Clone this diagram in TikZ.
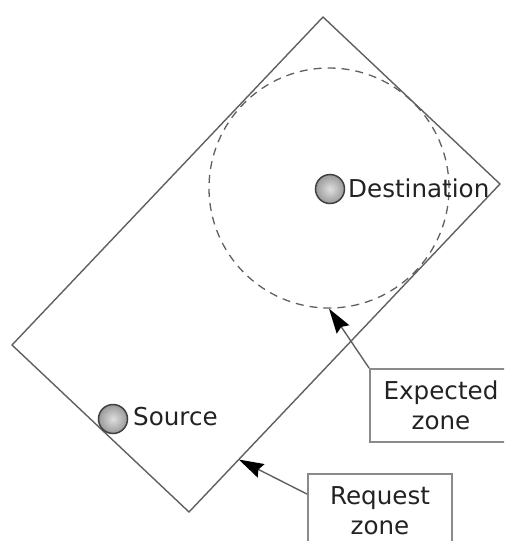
\documentclass[tikz,border=0pt]{standalone}
\usepackage{fontspec}
\setmainfont{DejaVu Sans}
\usetikzlibrary{arrows.meta,calc,shapes.geometric}
\definecolor{edgegray}{HTML}{606060}
\definecolor{boxgray}{HTML}{8A8A8A}
\definecolor{inkgray}{HTML}{222222}
\tikzset{
  zoneline/.style={draw=edgegray,line width=1.4pt},
  expzone/.style={circle,draw=edgegray,line width=1.3pt,dash pattern=on 8pt off 6pt,minimum size=240pt,inner sep=0pt},
  dot/.style={circle,minimum size=29pt,inner sep=0pt,draw=black!75,line width=1.5pt,
    shading=radial,inner color=gray!25,outer color=gray!80},
  lbl/.style={text=inkgray,font=\fontsize{24.6pt}{30pt}\selectfont,inner sep=0pt},
  callout/.style={draw=boxgray,line width=1.8pt,text=inkgray,align=center,
    font=\fontsize{24.6pt}{30pt}\selectfont,minimum height=73pt,inner sep=0pt},
  pointer/.style={draw=edgegray,line width=1.4pt,
    -{Stealth[length=25pt,width=15pt,inset=3pt,color=black]}}
}
\begin{document}
\begin{tikzpicture}[x=1pt,y=-1pt]
\clip (0,0) rectangle (504,541);
% corners of the request zone (rotated rectangle)
\coordinate (rt) at (323,17);
\coordinate (rr) at (500,184);
\coordinate (rb) at (189,512);
\coordinate (rl) at (12,345);
\draw[zoneline,line join=miter] (rt) -- (rr) -- (rb) -- (rl) -- cycle;

% expected zone around the destination
\node[expzone] (ez) at (329,188) {};

% nodes
\node[dot] (dst) at (330,189) {};
\node[lbl,anchor=base west] (dstl) at (348,197) {Destination};
\node[dot] (src) at (113,419) {};
\node[lbl,anchor=base west] (srcl) at (133,425) {Source};

% callout boxes
\node[callout,minimum width=142pt] (expb) at (441,405.5) {Expected\\zone};
\node[callout,minimum width=144pt] (reqb) at (380,510.5) {Request\\zone};

% pointers
\coordinate (reqtip) at ($(rr)!0.84!(rb)$);
\draw[pointer] (expb.north west) -- (ez.south);
\draw[pointer] ([yshift=-21pt]reqb.north west) -- (reqtip);
\end{tikzpicture}
\end{document}
